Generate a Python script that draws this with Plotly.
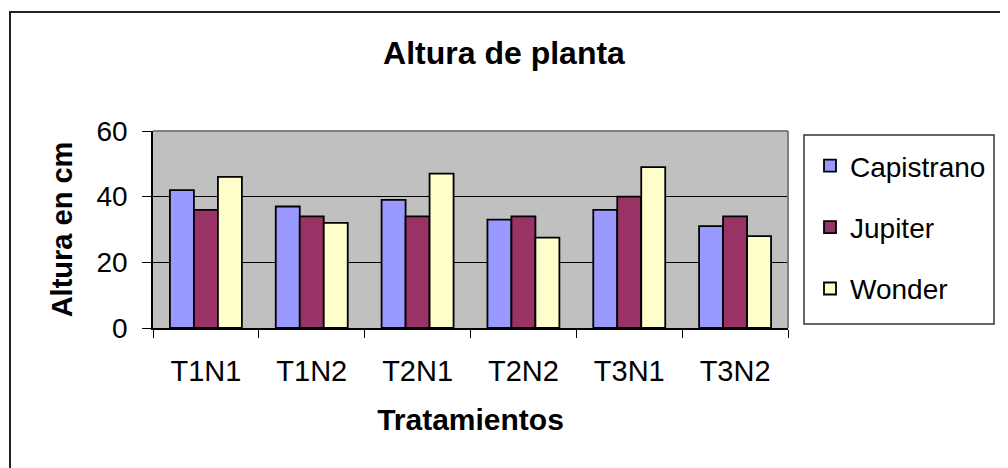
import plotly.graph_objects as go

categories = ["T1N1", "T1N2", "T2N1", "T2N2", "T3N1", "T3N2"]
capistrano = [42, 37, 39, 33, 36, 31]
jupiter = [36, 34, 34, 34, 40, 34]
wonder = [46, 32, 47, 27.5, 49, 28]
series_names = ["Capistrano", "Jupiter", "Wonder"]
series_colors = ["#9999FF", "#993366", "#FFFFCC"]
y_ticks = [0, 20, 40, 60]

W, H = 1008, 468
OFF = 8  # page body margin offset
# plot area in reference-screen pixels
L0, R0, T0, B0 = 153, 788, 131, 328
L, R, T, B = L0 - OFF, R0 - OFF, T0 - OFF, B0 - OFF


def px(x):
    return (x - OFF - L) / (R - L)


def py(y):
    return (B - (y - OFF)) / (B - T)


FONT = "Arial, Liberation Sans, sans-serif"

fig = go.Figure()
for name, vals, col in zip(series_names, [capistrano, jupiter, wonder], series_colors):
    fig.add_trace(go.Bar(
        x=categories, y=vals, name=name, legendgroup=name,
        marker=dict(color=col, line=dict(color="black", width=1.8)),
    ))

shapes = [
    # outer chart frame
    dict(type="rect", xref="paper", yref="paper",
         x0=px(10), x1=px(1030), y0=py(490), y1=py(12),
         line=dict(color="#222222", width=2), fillcolor="rgba(0,0,0,0)", layer="below"),
    # plot-area top and right border (gray)
    dict(type="line", xref="paper", yref="paper", x0=0, x1=1, y0=1, y1=1,
         line=dict(color="#808080", width=2)),
    dict(type="line", xref="paper", yref="paper", x0=1, x1=1, y0=0, y1=1,
         line=dict(color="#808080", width=2)),
    # legend box
    dict(type="rect", xref="paper", yref="paper",
         x0=px(804), x1=px(994), y0=py(324), y1=py(135),
         line=dict(color="#333333", width=1.5), fillcolor="white", layer="below"),
]

fig.update_layout(
    width=W, height=H,
    margin=dict(l=L, r=W - R, t=T, b=H - B),
    paper_bgcolor="white",
    plot_bgcolor="#C0C0C0",
    barmode="group",
    bargap=0.32,
    bargroupgap=0,
    font=dict(family=FONT, color="black", size=28),
    title=dict(text="<b>Altura de planta</b>", x=(504 - OFF) / W, xref="container", xanchor="center",
               y=1 - (53 - OFF) / H, yref="container", yanchor="middle",
               font=dict(size=32, family=FONT, color="black")),
    xaxis=dict(
        type="category", tickson="boundaries", ticks="outside", ticklen=8,
        tickcolor="black", tickwidth=1, showline=True, linecolor="black", linewidth=1.5,
        showgrid=False, tickfont=dict(size=29), ticklabelstandoff=16,
        title=dict(text="<b>Tratamientos</b>", font=dict(size=30), standoff=23),
    ),
    yaxis=dict(
        range=[0, 60], tickvals=y_ticks, ticks="outside", ticklen=9,
        tickcolor="black", tickwidth=1, showline=True, linecolor="black", linewidth=1.5,
        showgrid=True, gridcolor="black", gridwidth=1, zeroline=False,
        tickfont=dict(size=28), ticklabelstandoff=9,
        title=dict(text="<b>Altura en cm</b>", font=dict(size=29), standoff=15),
    ),
    legend=dict(
        x=px(810), y=py(141), xanchor="left", yanchor="top",
        bgcolor="rgba(0,0,0,0)", borderwidth=0,
        font=dict(size=28, family=FONT), tracegroupgap=22,
        traceorder="grouped",
    ),
    shapes=shapes,
)

fig.write_html("out.html")
